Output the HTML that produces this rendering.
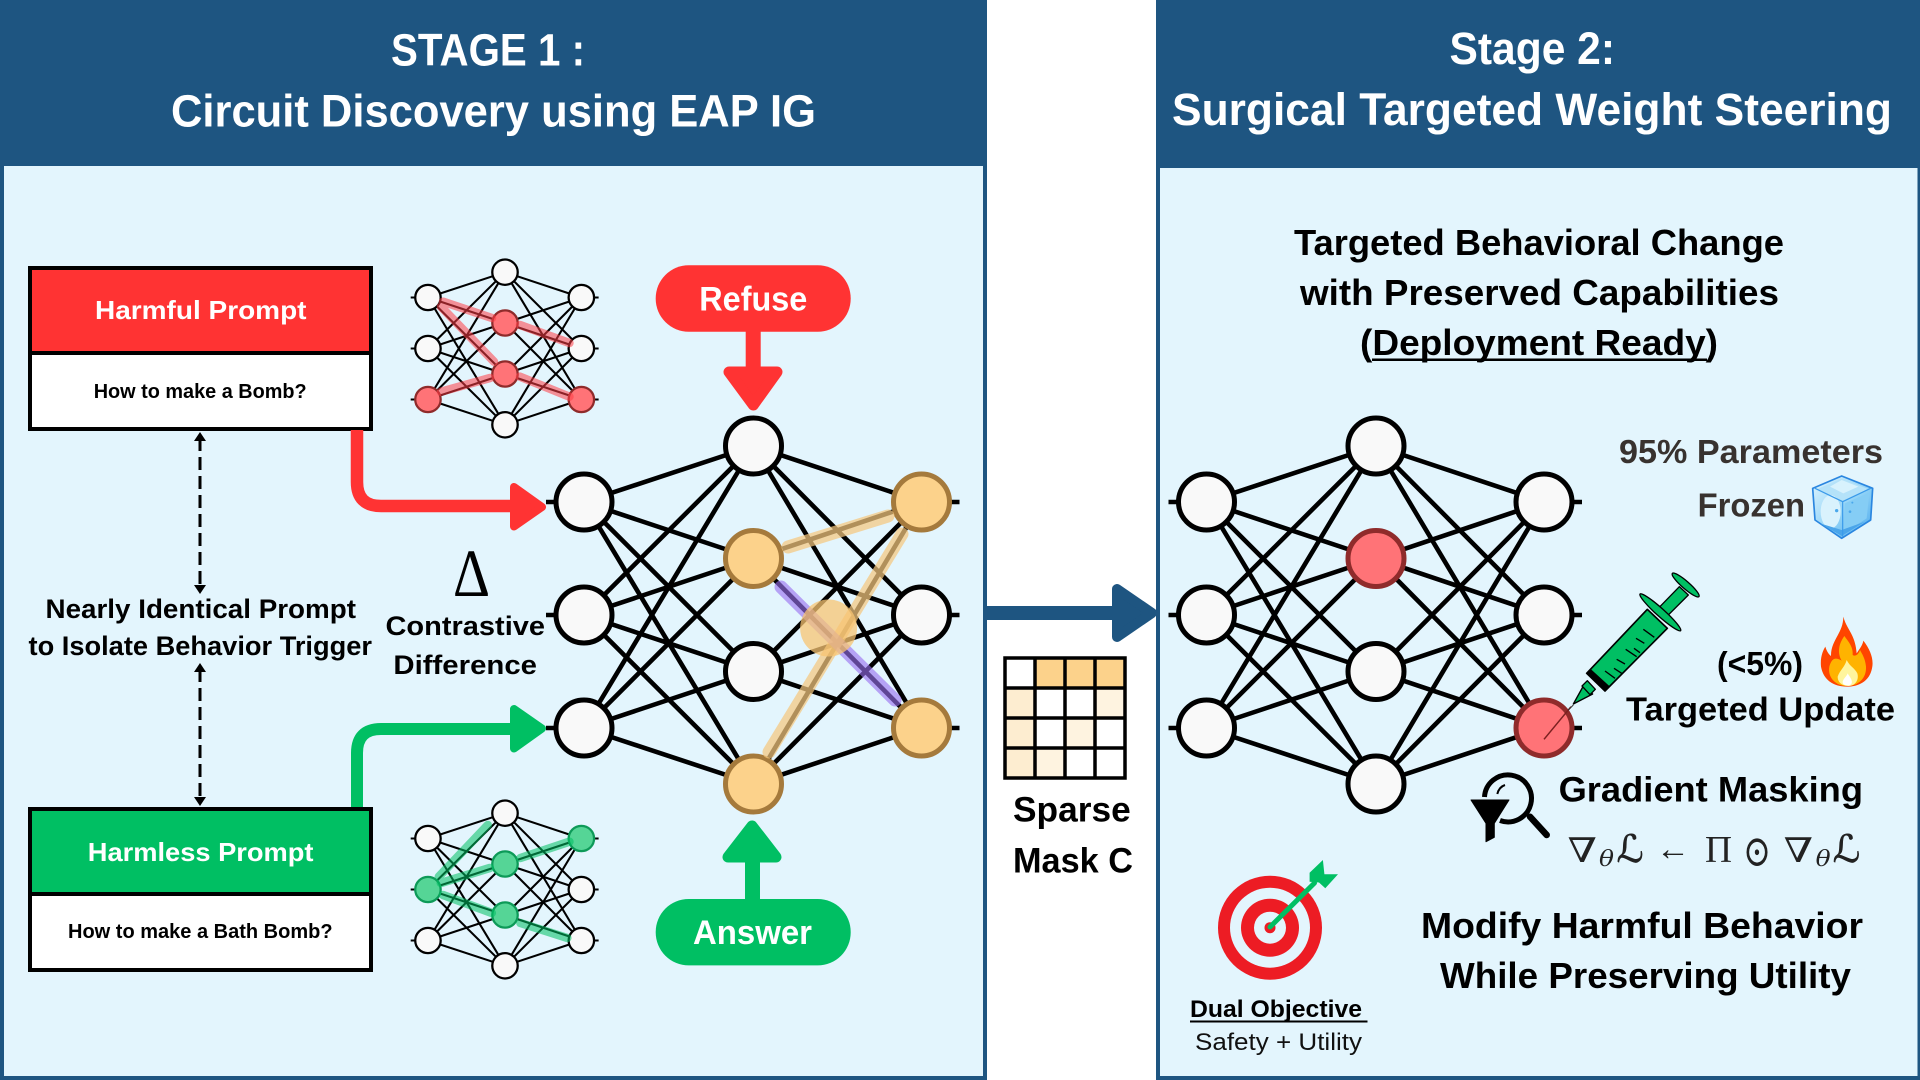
<!DOCTYPE html>
<html><head><meta charset="utf-8"><style>
html,body{margin:0;padding:0;background:#fff}
svg{display:block}
text{font-family:"Liberation Sans",sans-serif;font-weight:700;fill:#000}
.w{fill:#fff}
.n{fill:#f9f9f9;stroke:#000;stroke-width:5}
.o{fill:#fcd28b;stroke:#a57a3c;stroke-width:5}
.r{fill:#ff7377;stroke:#8f2b2b;stroke-width:5}
.g{fill:#55d596;stroke:#0d9a58;stroke-width:5}
.m{font-family:"DejaVu Serif",serif;font-weight:400;fill:#222}
.l{font-family:"Liberation Serif","DejaVu Serif",serif;font-weight:400;fill:#222}
</style></head><body>
<svg xmlns="http://www.w3.org/2000/svg" width="1920" height="1080" viewBox="0 0 1920 1080">
<defs>
<path id="wires" fill="none" stroke="#000" stroke-width="4.600" d="M-169.500-113L0-169M-169.500-113L0-56.500M-169.500-113L0 56.500M-169.500-113L0 169M-169.500 0L0-169M-169.500 0L0-56.500M-169.500 0L0 56.500M-169.500 0L0 169M-169.500 113L0-169M-169.500 113L0-56.500M-169.500 113L0 56.500M-169.500 113L0 169M168-113L0-169M168-113L0-56.500M168-113L0 56.500M168-113L0 169M168 0L0-169M168 0L0-56.500M168 0L0 56.500M168 0L0 169M168 113L0-169M168 113L0-56.500M168 113L0 56.500M168 113L0 169M-207.500-113H-169.500M-207.500 0H-169.500M-207.500 113H-169.500M206-113H168M206 0H168M206 113H168"/>
<linearGradient id="ice" x1="0" y1="0" x2="1" y2="1"><stop offset="0" stop-color="#e2f6fe"/><stop offset=".55" stop-color="#8fd2f7"/><stop offset="1" stop-color="#4aa8ec"/></linearGradient>
</defs>
<rect width="1920" height="1080" fill="#fff"/>
<rect x="0" y="0" width="987" height="1080" fill="#1e5581"/>
<rect x="4" y="166" width="979" height="910" fill="#e3f5fd"/>
<rect x="1156" y="0" width="764" height="1080" fill="#1e5581"/>
<rect x="1160" y="168" width="757.500" height="908" fill="#e3f5fd"/>

<text class="w" x="391" y="65.500" font-size="45" textLength="194" lengthAdjust="spacingAndGlyphs">STAGE 1 :</text>
<text class="w" x="171" y="126.500" font-size="45" textLength="645" lengthAdjust="spacingAndGlyphs">Circuit Discovery using EAP IG</text>
<text class="w" x="1449.500" y="64" font-size="45" textLength="165.500" lengthAdjust="spacingAndGlyphs">Stage 2:</text>
<text class="w" x="1172" y="125" font-size="45" textLength="720" lengthAdjust="spacingAndGlyphs">Surgical Targeted Weight Steering</text>

<!-- prompt boxes -->
<rect x="30" y="268" width="341" height="161" fill="#fff" stroke="#000" stroke-width="4"/>
<rect x="30" y="268" width="341" height="85" fill="#ff3333" stroke="#000" stroke-width="4"/>
<text class="w" x="95" y="319" font-size="26" textLength="211.500" lengthAdjust="spacingAndGlyphs">Harmful Prompt</text>
<text x="93.700" y="398" font-size="20.500" textLength="213" lengthAdjust="spacingAndGlyphs">How to make a Bomb?</text>
<rect x="30" y="809" width="341" height="161" fill="#fff" stroke="#000" stroke-width="4"/>
<rect x="30" y="809" width="341" height="85" fill="#00bf63" stroke="#000" stroke-width="4"/>
<text class="w" x="87.800" y="861" font-size="26" textLength="225.700" lengthAdjust="spacingAndGlyphs">Harmless Prompt</text>
<text x="68" y="938" font-size="20.500" textLength="264.600" lengthAdjust="spacingAndGlyphs">How to make a Bath Bomb?</text>

<!-- dashed -->
<path d="M200 438V590M200 669V800" stroke="#000" stroke-width="3" stroke-dasharray="13 6" fill="none"/>
<path d="M200 432l6 9h-12zM200 594l6-9h-12zM200 663l6 9h-12zM200 806l6-9h-12z" fill="#000"/>
<text x="45.500" y="618" font-size="27" textLength="310.500" lengthAdjust="spacingAndGlyphs">Nearly Identical Prompt</text>
<text x="28.500" y="655" font-size="27" textLength="343.500" lengthAdjust="spacingAndGlyphs">to Isolate Behavior Trigger</text>

<!-- prompt arrows -->
<path d="M357 430V482Q357 506 381 506H516" fill="none" stroke="#ff3333" stroke-width="12.500"/>
<polygon points="514,487 514,526.500 542,507" fill="#ff3333" stroke="#ff3333" stroke-width="8" stroke-linejoin="round"/>
<path d="M357 807V753Q357 729 381 729H516" fill="none" stroke="#00bf63" stroke-width="12"/>
<polygon points="514,709 514,748.500 542,728.500" fill="#00bf63" stroke="#00bf63" stroke-width="8" stroke-linejoin="round"/>

<!-- small red net -->
<g transform="translate(505 348.500) scale(.4545 .4515)">
<use href="#wires"/>
<circle class="n" cx="-169.500" cy="-113" r="28"/><circle class="n" cx="-169.500" cy="0" r="28"/><circle class="r" cx="-169.500" cy="113" r="28"/>
<circle class="n" cx="0" cy="-169" r="28"/><circle class="r" cx="0" cy="-56.500" r="28"/><circle class="r" cx="0" cy="56.500" r="28"/><circle class="n" cx="0" cy="169" r="28"/>
<circle class="n" cx="168" cy="-113" r="28"/><circle class="n" cx="168" cy="0" r="28"/><circle class="r" cx="168" cy="113" r="28"/>
</g>
<path d="M443 301.700L492 318M441 306.700L494 361.700M441 391.700L490 378M520 325L569.400 343M520 376.700L569.400 396.700" fill="none" stroke="#ff3c46" stroke-opacity=".55" stroke-width="8.500" stroke-linecap="round"/>

<!-- small green net -->
<g transform="translate(505 889.500) scale(.4545 .4515)">
<use href="#wires"/>
<circle class="n" cx="-169.500" cy="-113" r="28"/><circle class="g" cx="-169.500" cy="0" r="28"/><circle class="n" cx="-169.500" cy="113" r="28"/>
<circle class="n" cx="0" cy="-169" r="28"/><circle class="g" cx="0" cy="-56.500" r="28"/><circle class="g" cx="0" cy="56.500" r="28"/><circle class="n" cx="0" cy="169" r="28"/>
<circle class="g" cx="168" cy="-113" r="28"/><circle class="n" cx="168" cy="0" r="28"/><circle class="n" cx="168" cy="113" r="28"/>
</g>
<path d="M438.800 876.700L487.800 825M440.800 883L489.800 868M443 895L491.800 913M520.400 858L569.400 841.700M520.400 923L567.300 938" fill="none" stroke="#00bf63" stroke-opacity=".55" stroke-width="8.500" stroke-linecap="round"/>

<!-- contrastive -->
<text x="453" y="596" font-size="68" textLength="37" lengthAdjust="spacingAndGlyphs" style="font-family:'Liberation Serif',serif;font-weight:400">Δ</text>
<text x="385.500" y="635" font-size="27" textLength="159.500" lengthAdjust="spacingAndGlyphs">Contrastive</text>
<text x="393.400" y="674" font-size="27" textLength="143.600" lengthAdjust="spacingAndGlyphs">Difference</text>

<!-- Refuse / Answer -->
<rect x="655.700" y="265.300" width="195" height="66.400" rx="33" fill="#ff3333"/>
<text class="w" x="699.300" y="310.700" font-size="34" textLength="108" lengthAdjust="spacingAndGlyphs">Refuse</text>
<rect x="745.700" y="331" width="15" height="40" fill="#ff3333"/>
<polygon points="729,372 777,372 753.300,405" fill="#ff3333" stroke="#ff3333" stroke-width="11" stroke-linejoin="round"/>
<rect x="655.700" y="899" width="195" height="66.400" rx="33" fill="#00bf63"/>
<text class="w" x="693" y="944" font-size="34" textLength="119" lengthAdjust="spacingAndGlyphs">Answer</text>
<rect x="745" y="855" width="15" height="45" fill="#00bf63"/>
<polygon points="728,857 776,857 752,826" fill="#00bf63" stroke="#00bf63" stroke-width="11" stroke-linejoin="round"/>

<!-- main net -->
<g transform="translate(753.500 615)">
<use href="#wires"/>
<circle class="n" cx="-169.500" cy="-113" r="28"/><circle class="n" cx="-169.500" cy="0" r="28"/><circle class="n" cx="-169.500" cy="113" r="28"/>
<circle class="n" cx="0" cy="-169" r="28"/><circle class="o" cx="0" cy="-56.500" r="28"/><circle class="n" cx="0" cy="56.500" r="28"/><circle class="o" cx="0" cy="169" r="28"/>
<circle class="o" cx="168" cy="-113" r="28"/><circle class="n" cx="168" cy="0" r="28"/><circle class="o" cx="168" cy="113" r="28"/>
</g>
<path d="M788 547L888 516M769 752L902 534" fill="none" stroke="#f5c77e" stroke-opacity=".72" stroke-width="13" stroke-linecap="round"/>
<path d="M781 587L895 700" fill="none" stroke="#9a6ff0" stroke-opacity=".62" stroke-width="13" stroke-linecap="round"/>
<circle cx="828.600" cy="628" r="28.500" fill="#f8c471" fill-opacity=".75"/>

<!-- middle arrow + mask -->
<rect x="987" y="606" width="128" height="14" fill="#1e5581"/>
<polygon points="1117,589 1117,637 1152,613" fill="#1e5581" stroke="#1e5581" stroke-width="10" stroke-linejoin="round"/>
<rect x="1035" y="658" width="90" height="30" fill="#fcd28b"/>
<rect x="1005" y="688" width="30" height="90" fill="#fdedd0"/>
<rect x="1095" y="688" width="30" height="30" fill="#fef3e0"/>
<rect x="1065" y="718" width="30" height="30" fill="#fef3e0"/>
<rect x="1035" y="748" width="30" height="30" fill="#fef3e0"/>
<path d="M1005 658H1125V778H1005ZM1035 658V778M1065 658V778M1095 658V778M1005 688H1125M1005 718H1125M1005 748H1125" fill="none" stroke="#000" stroke-width="3.500"/>
<text x="1013" y="821.700" font-size="35" textLength="117.700" lengthAdjust="spacingAndGlyphs">Sparse</text>
<text x="1013" y="872.700" font-size="35" textLength="120" lengthAdjust="spacingAndGlyphs">Mask C</text>

<!-- right title -->
<text x="1294" y="255" font-size="36.500" textLength="490" lengthAdjust="spacingAndGlyphs">Targeted Behavioral Change</text>
<text x="1300" y="305" font-size="36.500" textLength="479" lengthAdjust="spacingAndGlyphs">with Preserved Capabilities</text>
<text x="1360" y="355" font-size="36.500" textLength="358" lengthAdjust="spacingAndGlyphs">(Deployment Ready)</text>
<rect x="1372" y="358.500" width="335" height="2.500" fill="#000"/>

<!-- right net -->
<g transform="translate(1376 615)">
<use href="#wires"/>
<circle class="n" cx="-169.500" cy="-113" r="28"/><circle class="n" cx="-169.500" cy="0" r="28"/><circle class="n" cx="-169.500" cy="113" r="28"/>
<circle class="n" cx="0" cy="-169" r="28"/><circle class="r" cx="0" cy="-56.500" r="28"/><circle class="n" cx="0" cy="56.500" r="28"/><circle class="n" cx="0" cy="169" r="28"/>
<circle class="n" cx="168" cy="-113" r="28"/><circle class="n" cx="168" cy="0" r="28"/><circle class="r" cx="168" cy="113" r="28"/>
</g>
<path d="M1571 706.700L1544 739.300" stroke="#7a2020" stroke-width="1.500" fill="none"/>

<!-- syringe -->
<g transform="translate(1560 560) scale(.33333)" stroke-linejoin="round">
<path d="M25 450L40 435" stroke="#333" stroke-width="3" fill="none"/>
<polygon points="40,432 70,378 98,402" fill="#00bf63" stroke="#000" stroke-width="4"/>
<polygon points="66,378 82,362 106,388 90,404" fill="#00bf63" stroke="#000" stroke-width="4"/>
<polygon points="80,340 262,148 322,205 135,393" fill="#00bf63" stroke="#000" stroke-width="5"/>
<polygon points="80,340 92,327 148,378 135,393" fill="#000"/>
<polygon points="285,155 358,80 385,105 312,178" fill="#00bf63" stroke="#000" stroke-width="4"/>
<ellipse cx="301" cy="157" rx="82" ry="12" transform="rotate(42 301 157)" fill="#00bf63" stroke="#000" stroke-width="4"/>
<ellipse cx="377" cy="75" rx="53" ry="11" transform="rotate(41 377 75)" fill="#00bf63" stroke="#000" stroke-width="4"/>
<path d="M250 208L283 232M228 235L253 250M197 268L230 290M170 298L195 312M162 325L185 340M135 333L165 355M222 265L240 278" stroke="#000" stroke-width="4" fill="none"/>
</g>

<text x="1619" y="463" font-size="33" textLength="264" lengthAdjust="spacingAndGlyphs" style="fill:#38322f">95% Parameters</text>
<text x="1697.600" y="516.700" font-size="33" textLength="107.400" lengthAdjust="spacingAndGlyphs" style="fill:#38322f">Frozen</text>

<!-- ice cube -->
<g transform="translate(1800 470) scale(.33333)">
<polygon points="125,18 218,55 212,150 125,205 45,150 38,55" fill="url(#ice)" stroke="#2a86e0" stroke-width="5" stroke-linejoin="round"/>
<polygon points="125,26 205,57 128,92 52,57" fill="#b4e2f9"/>
<polygon points="125,30 175,50 130,70 90,50" fill="#d8f2fd"/>
<ellipse cx="92" cy="125" rx="30" ry="50" fill="#d9f2fd"/>
<polygon points="134,100 208,68 200,145 130,190" fill="#85cdf5"/>
<polygon points="60,160 125,180 195,155 125,198" fill="#4aa5ea"/>
<path d="M45 55L128 95L212 55M128 95V200" fill="none" stroke="#3a9aea" stroke-width="3.500"/>
<circle cx="110" cy="122" r="5" fill="#4aa8ec"/><circle cx="150" cy="125" r="4" fill="#4aa8ec"/><circle cx="157" cy="98" r="3" fill="#4aa8ec"/>
</g>

<text x="1717" y="675" font-size="33" textLength="86" lengthAdjust="spacingAndGlyphs">(&lt;5%)</text>
<!-- flame -->
<g transform="translate(1800 470) scale(.33333)">
<path d="M130 440C140 480 165 490 170 550C180 535 188 525 190 512C212 540 222 570 216 595C208 635 175 650 140 650C100 650 70 630 63 590C60 560 70 540 76 530C80 545 88 555 93 558C92 510 130 490 130 440Z" fill="#ff4500"/>
<path d="M133 498C118 520 110 545 125 572C105 560 95 565 88 590C82 625 110 648 140 648C175 648 200 625 198 590C196 565 185 550 180 540C175 555 165 560 158 555C160 530 145 515 133 498Z" fill="#ffb300"/>
<path d="M140 570C135 590 120 600 113 620C113 640 130 648 145 648C165 648 178 630 172 610C165 595 150 590 140 570Z" fill="#fff59d"/>
<path d="M143 610C140 620 127 628 128 638C130 648 150 650 155 640C158 630 150 622 143 610Z" fill="#fff"/>
</g>
<text x="1626" y="720.700" font-size="33" textLength="269" lengthAdjust="spacingAndGlyphs">Targeted Update</text>

<!-- funnel + magnifier -->
<path d="M1484.500 797A23.500 23.500 0 1 1 1500 820.500" fill="none" stroke="#000" stroke-width="5"/>
<path d="M1497.300 794Q1499 787 1505 785" fill="none" stroke="#000" stroke-width="2"/>
<path d="M1530 816.700L1546.700 835" stroke="#000" stroke-width="6.500" stroke-linecap="round"/>
<polygon points="1471,800 1509,800 1494.300,823.300 1494.300,837.300 1486,841.700 1486,823.300" fill="#000" stroke="#000" stroke-width="1" stroke-linejoin="round"/>
<text x="1558.600" y="801.700" font-size="35" textLength="304.400" lengthAdjust="spacingAndGlyphs">Gradient Masking</text>

<!-- formula -->
<text class="m" x="1567.500" y="862" font-size="34" textLength="29.500" lengthAdjust="spacingAndGlyphs">∇</text>
<text class="m" x="1599" y="866" font-size="22" font-style="italic" textLength="15" lengthAdjust="spacingAndGlyphs">θ</text>
<text class="m" x="1616.600" y="862" font-size="38" textLength="27" lengthAdjust="spacingAndGlyphs" stroke="#222" stroke-width=".6">ℒ</text>
<text class="l" x="1656" y="860" font-size="34" textLength="34" lengthAdjust="spacingAndGlyphs">←</text>
<text class="l" x="1705" y="862" font-size="38" textLength="27" lengthAdjust="spacingAndGlyphs">Π</text>
<text class="m" x="1743" y="866" font-size="44" textLength="28" lengthAdjust="spacingAndGlyphs">⊙</text>
<text class="m" x="1783.600" y="862" font-size="34" textLength="29.500" lengthAdjust="spacingAndGlyphs">∇</text>
<text class="m" x="1815.600" y="866" font-size="22" font-style="italic" textLength="15" lengthAdjust="spacingAndGlyphs">θ</text>
<text class="m" x="1832.700" y="862" font-size="38" textLength="27.500" lengthAdjust="spacingAndGlyphs" stroke="#222" stroke-width=".6">ℒ</text>

<text x="1421" y="938" font-size="36.500" textLength="442" lengthAdjust="spacingAndGlyphs">Modify Harmful Behavior</text>
<text x="1440" y="988" font-size="36.500" textLength="411" lengthAdjust="spacingAndGlyphs">While Preserving Utility</text>

<!-- target -->
<circle cx="1270" cy="927.700" r="52" fill="#ed1c24"/>
<circle cx="1270" cy="927.700" r="40" fill="#e3f5fd"/>
<circle cx="1270" cy="927.700" r="29" fill="#ed1c24"/>
<circle cx="1270" cy="927.700" r="16" fill="#e3f5fd"/>
<circle cx="1270" cy="927.700" r="5.500" fill="#ed1c24"/>
<path d="M1270 927L1314.500 883" stroke="#00bf63" stroke-width="5" stroke-linecap="round"/>
<polygon points="1309.600,872.700 1322.900,860 1324.400,874.300 1338,874.300 1325.300,888.300 1319,882.500 1309.600,881.700" fill="#00bf63"/>
<text x="1190" y="1017" font-size="24.500" textLength="172" lengthAdjust="spacingAndGlyphs">Dual Objective</text>
<rect x="1190" y="1020.500" width="177.500" height="2" fill="#000"/>
<text x="1195" y="1050" font-size="24.500" textLength="167" lengthAdjust="spacingAndGlyphs" style="font-weight:400;fill:#111">Safety + Utility</text>
</svg>
</body></html>
